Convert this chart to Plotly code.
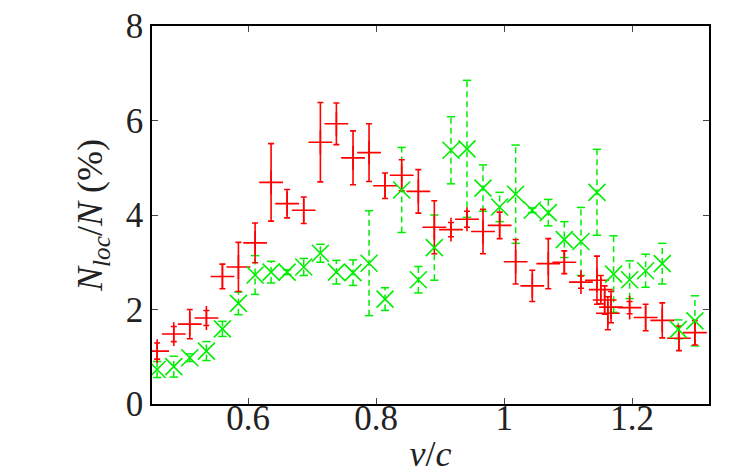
import plotly.graph_objects as go

# Red series (+ markers, solid error bars)
red_x = [0.458, 0.484, 0.509, 0.535, 0.560, 0.585, 0.611, 0.636, 0.661, 0.687,
         0.713, 0.738, 0.764, 0.789, 0.814, 0.840, 0.866, 0.891, 0.917, 0.942,
         0.967, 0.993, 1.018, 1.044, 1.069, 1.094, 1.120, 1.145, 1.151, 1.157,
         1.162, 1.167, 1.196, 1.221, 1.247, 1.273, 1.298]
red_y = [1.12, 1.48, 1.69, 1.82, 2.70, 2.90, 3.41, 4.69, 4.24, 4.10,
         5.54, 5.93, 5.21, 5.32, 4.62, 4.84, 4.50, 3.74, 3.69, 3.91,
         3.65, 3.78, 3.01, 2.50, 2.97, 3.00, 2.58, 2.62, 2.42, 2.20,
         1.92, 2.05, 2.04, 1.83, 1.77, 1.39, 1.51]
red_err = [0.17, 0.16, 0.31, 0.16, 0.26, 0.52, 0.42, 0.82, 0.30, 0.28,
           0.84, 0.44, 0.57, 0.61, 0.27, 0.33, 0.46, 0.56, 0.15, 0.17,
           0.47, 0.28, 0.47, 0.33, 0.53, 0.24, 0.13, 0.51, 0.30, 0.30,
           0.35, 0.33, 0.13, 0.28, 0.37, 0.26, 0.26]

# Green series (x markers, dashed error bars)
green_x = [0.458, 0.484, 0.509, 0.535, 0.560, 0.585, 0.611, 0.636, 0.661, 0.687,
           0.713, 0.738, 0.764, 0.789, 0.814, 0.840, 0.866, 0.891, 0.917, 0.942,
           0.967, 0.993, 1.018, 1.044, 1.069, 1.094, 1.120, 1.145, 1.171, 1.196,
           1.221, 1.247, 1.272, 1.298]
green_y = [0.73, 0.79, 0.98, 1.12, 1.59, 2.13, 2.73, 2.79, 2.79, 2.90,
           3.19, 2.79, 2.78, 2.98, 2.22, 4.53, 2.63, 3.31, 5.37, 5.40,
           4.57, 4.17, 4.44, 4.10, 4.05, 3.48, 3.44, 4.48, 2.75, 2.63,
           2.82, 2.97, 1.58, 1.76]
green_err = [0.17, 0.22, 0.08, 0.20, 0.16, 0.24, 0.41, 0.23, 0.05, 0.18,
             0.19, 0.25, 0.27, 1.11, 0.24, 0.90, 0.28, 0.69, 0.71, 1.45,
             0.49, 0.31, 1.04, 0.05, 0.28, 0.38, 0.72, 0.91, 0.81, 0.40,
             0.35, 0.43, 0.20, 0.53]

x_ticks = [0.6, 0.8, 1.0, 1.2]
x_tick_text = ["0.6", "0.8", "1", "1.2"]
y_ticks = [0, 2, 4, 6, 8]

RED = "#ff0000"
GREEN = "#00ee00"

fig = go.Figure()

# green dashed error bars
gx, gy = [], []
cap_x, cap_y = [], []
for x, y, e in zip(green_x, green_y, green_err):
    gx += [x, x, None]
    gy += [y - e, y + e, None]
    cap_x += [x, x]
    cap_y += [y - e, y + e]
fig.add_trace(go.Scatter(x=gx, y=gy, mode="lines",
                         line=dict(color=GREEN, width=1.5, dash="6px,4px"),
                         hoverinfo="skip", showlegend=False))
fig.add_trace(go.Scatter(x=cap_x, y=cap_y, mode="markers",
                         marker=dict(symbol="line-ew", size=6,
                                     line=dict(color=GREEN, width=1.5)),
                         hoverinfo="skip", showlegend=False))

# red points with error bars
fig.add_trace(go.Scatter(x=red_x, y=red_y, mode="markers",
                         marker=dict(symbol="cross-thin", size=17,
                                     line=dict(color=RED, width=1.6), color=RED),
                         error_y=dict(type="data", array=red_err, color=RED,
                                      thickness=1.6, width=3),
                         showlegend=False))

# green markers
fig.add_trace(go.Scatter(x=green_x, y=green_y, mode="markers",
                         marker=dict(symbol="x-thin", size=17,
                                     line=dict(color=GREEN, width=1.6), color=GREEN),
                         showlegend=False))

FONT = "Liberation Serif, Times New Roman, serif"
TXT = "#222222"

# the page body has an 8px margin, so the figure is a little smaller
fig.update_layout(
    width=739, height=466,
    margin=dict(l=144, r=38, t=18, b=70, autoexpand=False),
    paper_bgcolor="white", plot_bgcolor="white",
    font=dict(family=FONT, size=35, color=TXT),
    showlegend=False,
)
fig.update_xaxes(
    range=[0.45, 1.32], tickvals=x_ticks, ticktext=x_tick_text,
    ticks="inside", ticklen=6, tickwidth=1, tickcolor="#444444",
    showline=True, linecolor="black", linewidth=1.5, mirror="allticks",
    showgrid=False, zeroline=False, automargin=False,
    ticklabeloverflow="allow", ticklabelstandoff=-18,
    tickfont=dict(family=FONT, size=35, color=TXT),
    title=dict(text="<i>v</i>/<i>c</i>", standoff=15,
               font=dict(family=FONT, size=36, color=TXT)),
)
fig.update_yaxes(
    range=[0, 8], tickvals=y_ticks,
    ticks="inside", ticklen=6, tickwidth=1, tickcolor="#444444",
    showline=True, linecolor="black", linewidth=1.5, mirror="allticks",
    showgrid=False, zeroline=False, automargin=False,
    ticklabeloverflow="allow",
    tickfont=dict(family=FONT, size=35, color=TXT),
    title=dict(text="<i>N</i><sub><i>loc</i></sub>/<i>N</i> (%)", standoff=12,
               font=dict(family=FONT, size=36, color=TXT)),
)

fig.write_html("out.html")
